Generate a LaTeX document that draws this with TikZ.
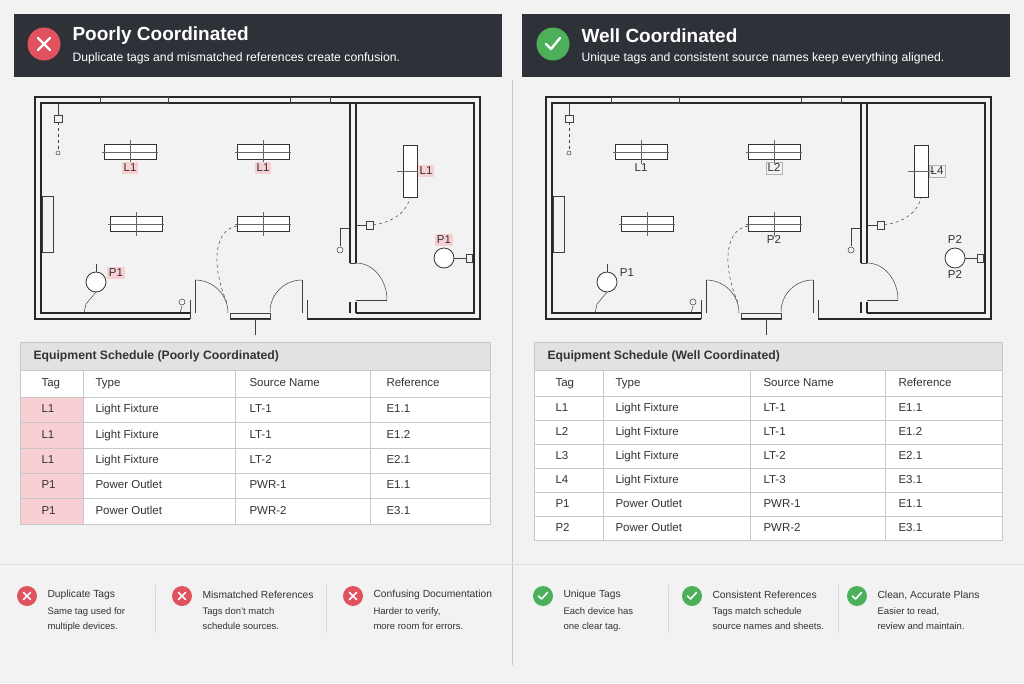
\documentclass[tikz,border=0pt]{standalone}
\usepackage{fontspec}
\setmainfont{Liberation Sans}
\usetikzlibrary{positioning}
\definecolor{bg}{HTML}{F2F2F2}
\definecolor{hdr}{HTML}{2E3238}
\definecolor{bad}{HTML}{E0525E}
\definecolor{good}{HTML}{4CAF5A}
\definecolor{badcell}{HTML}{F8D0D3}
\definecolor{grid}{HTML}{C8C8C8}
\definecolor{ttl}{HTML}{E2E2E2}
\definecolor{txt}{HTML}{333333}

\tikzset{
  wall/.style={line width=1.2pt, draw=black!85},
  thin/.style={line width=0.5pt, draw=black!75},
  fixture/.style={draw=black!80, line width=0.8pt, fill=white},
  tag/.style={font=\fontsize{11.5}{13}\selectfont, inner sep=1.5pt, text=txt, text height=8.5pt, text depth=1pt},
  badtag/.style={tag, fill=badcell},
  boxtag/.style={tag, draw=black!30},
  cell/.style={font=\fontsize{11.5}{13}\selectfont, anchor=west, text=txt, text height=8.5pt, text depth=2.5pt},
  head/.style={cell},
  ttitle/.style={font=\bfseries\fontsize{12.2}{14}\selectfont, anchor=west, text=txt},
  ptitle/.style={font=\bfseries\fontsize{19}{22}\selectfont, anchor=west, text=white},
  psub/.style={font=\fontsize{12.2}{14}\selectfont, anchor=west, text=white},
  ntitle/.style={font=\fontsize{10.3}{12}\selectfont, anchor=west, text=txt},
  nbody/.style={font=\fontsize{9.5}{15}\selectfont, anchor=north west, align=left, text=txt},
}

% floor plan, drawn at the current shift
\newcommand\floorplan{%
  % outer walls
  \draw[wall] (190,319) -- (35,319) -- (35,97) -- (480,97) -- (480,319) -- (307,319);
  \draw[wall] (230,319) -- (270,319);
  \draw[wall] (190,313) -- (41,313) -- (41,103) -- (474,103) -- (474,313) -- (356,313);
  \draw[thin] (230,313) rectangle (270,319);
  \draw[thin] (190,300) -- (190,319);  \draw[thin] (307,300) -- (307,319);
  \draw[thin] (195,280) -- (195,313);  \draw[thin] (302,280) -- (302,313);
  % window gaps in top wall
  \draw[thin] (100,97) rectangle (168,103);
  \draw[thin] (290,97) rectangle (330,103);
  % partition
  \draw[wall] (350,103) -- (350,263);  \draw[wall] (356,103) -- (356,263);
  \draw[wall] (350,302) -- (350,313);  \draw[wall] (356,302) -- (356,313);
  \draw[thin] (350,263) -- (356,263);
  \draw[thin] (356,300) -- (387,300);
  % doors
  \draw[thin] (195,280) arc[start angle=-90, end angle=0, radius=33];
  \draw[thin] (302,280) arc[start angle=-90, end angle=-180, radius=32];
  \draw[thin] (356,263) arc[start angle=-90, end angle=0, x radius=31, y radius=37];
  \draw[thin] (255,319) -- (255,335);
  % left window
  \draw[thin] (42,196) rectangle (53,252);
  % fixtures
  \foreach \x/\y in {130/152, 263/152, 136/224, 263/224} {
    \draw[fixture] (\x-26,\y-7.5) rectangle (\x+26,\y+7.5);
    \draw[line width=0.3pt, black!60] (\x,\y-12) -- (\x,\y+12) (\x-28,\y) -- (\x+28,\y);
  }
  \draw[fixture] (403,145) rectangle (417,197);
  \draw[line width=0.3pt, black!60] (397,171) -- (423,171);
  % devices
  \draw[fixture] (96,282) circle[radius=10];
  \draw[fixture] (444,258) circle[radius=10];
  \draw[thin] (96,292) -- (86,304) -- (84,313);
  \draw[thin] (454,258) -- (466,258);  \draw[thin] (466,254) rectangle (472,262);
  \draw[thin] (96,272) -- (96,264);
  % switches and runs
  \draw[thin] (58,103) -- (58,115);  \draw[thin] (54,115) rectangle (62,122);
  \draw[thin, dashed] (58,122) -- (58,150);  \draw[thin] (58,153) circle[radius=2];
  \draw[thin] (182,306) -- (180,313);  \draw[thin] (182,302) circle[radius=3];
  \draw[thin, dashed] (237,226) .. controls (212,230) and (212,270) .. (228,305);
  \draw[thin] (350,228) -- (340,228) -- (340,246);  \draw[thin] (340,250) circle[radius=3];
  \draw[thin] (356,225) -- (366,225);  \draw[thin] (366,221) rectangle (373,229);
  \draw[thin, dashed] (373,225) .. controls (395,222) and (408,210) .. (410,197);
}

\begin{document}
\begin{tikzpicture}[x=1pt, y=-1pt]
\useasboundingbox (0,0) rectangle (1024,683);
\fill[bg] (0,0) rectangle (1024,683);
\draw[grid] (512,80) -- (512,665);
\draw[black!12] (0,564) -- (1024,564);

% headers
\fill[hdr] (14,14) rectangle (502,77);
\fill[hdr] (522,14) rectangle (1010,77);
\node[circle, fill=bad, minimum size=33pt, inner sep=0pt] (xbad) at (44,44) {};
\draw[white, line width=2.4pt, line cap=round] ([shift={(-6,-6)}]xbad.center) -- ([shift={(6,6)}]xbad.center) ([shift={(-6,6)}]xbad.center) -- ([shift={(6,-6)}]xbad.center);
\node[circle, fill=good, minimum size=33pt, inner sep=0pt] (xgood) at (553,44) {};
\draw[white, line width=2.4pt, line cap=round, line join=round] ([shift={(-7,0)}]xgood.center) -- ([shift={(-2,5)}]xgood.center) -- ([shift={(7,-6)}]xgood.center);
\node[ptitle] (tbad) at (69,36) {Poorly Coordinated};
\node[psub] (sbad) at (69,58) {Duplicate tags and mismatched references create confusion.};
\node[ptitle] (tgood) at (578,36) {Well Coordinated};
\node[psub] (sgood) at (578,58) {Unique tags and consistent source names keep everything aligned.};

% plans
\floorplan
\begin{scope}[shift={(511,0)}]\floorplan\end{scope}

\node[badtag] (lb1) at (130,168) {L1};
\node[badtag] (lb2) at (263,168) {L1};
\node[badtag] (lb3) at (426,171) {L1};
\node[badtag] (pb1) at (116,273) {P1};
\node[badtag] (pb2) at (444,240) {P1};
\node[tag] (lg1) at (641,168) {L1};
\node[boxtag] (lg2) at (774,168) {L2};
\node[boxtag] (lg4) at (937,171) {L4};
\node[tag] (pg1) at (627,273) {P1};
\node[tag] (pg2) at (774,240) {P2};
\node[tag] (pg3) at (955,240) {P2};
\node[tag] (pg4) at (955,275) {P2};

% left schedule
\fill[ttl] (20,342) rectangle (490,370);
\node[ttitle] (schbad) at (30,356) {Equipment Schedule (Poorly Coordinated)};
\fill[white] (20,370) rectangle (490,524);
\foreach \i in {0,...,4} \fill[badcell] (20,397+\i*25.4) rectangle (83,397+\i*25.4+25.4);
\foreach \y in {370,397,422.4,447.8,473.2,498.6} \draw[grid] (20,\y) -- (490,\y);
\foreach \x in {83,235,370} \draw[grid] (\x,370) -- (\x,524);
\draw[grid] (20,342) rectangle (490,524);
\node[head] at (38,383.5) {Tag};
\node[head] at (92,383.5) {Type};
\node[head] at (246,383.5) {Source Name};
\node[head] at (383,383.5) {Reference};
\foreach \t/\ty/\s/\r [count=\i from 0] in {L1/Light Fixture/LT-1/E1.1, L1/Light Fixture/LT-1/E1.2, L1/Light Fixture/LT-2/E2.1, P1/Power Outlet/PWR-1/E1.1, P1/Power Outlet/PWR-2/E3.1} {
  \node[cell] (bt\i) at (38,409.7+\i*25.4) {\t};
  \node[cell] (by\i) at (92,409.7+\i*25.4) {\ty};
  \node[cell] (bs\i) at (246,409.7+\i*25.4) {\s};
  \node[cell] (br\i) at (383,409.7+\i*25.4) {\r};
}

% right schedule
\fill[ttl] (534,342) rectangle (1002,370);
\node[ttitle] (schgood) at (544,356) {Equipment Schedule (Well Coordinated)};
\fill[white] (534,370) rectangle (1002,540);
\foreach \y in {370,396,420,444,468,492,516} \draw[grid] (534,\y) -- (1002,\y);
\foreach \x in {603,750,885} \draw[grid] (\x,370) -- (\x,540);
\draw[grid] (534,342) rectangle (1002,540);
\node[head] at (552,383) {Tag};
\node[head] at (612,383) {Type};
\node[head] at (760,383) {Source Name};
\node[head] at (895,383) {Reference};
\foreach \t/\ty/\s/\r [count=\i from 0] in {L1/Light Fixture/LT-1/E1.1, L2/Light Fixture/LT-1/E1.2, L3/Light Fixture/LT-2/E2.1, L4/Light Fixture/LT-3/E3.1, P1/Power Outlet/PWR-1/E1.1, P2/Power Outlet/PWR-2/E3.1} {
  \node[cell] (gt\i) at (552,408+\i*24) {\t};
  \node[cell] (gy\i) at (612,408+\i*24) {\ty};
  \node[cell] (gs\i) at (760,408+\i*24) {\s};
  \node[cell] (gr\i) at (895,408+\i*24) {\r};
}

% notes
\foreach \x in {155,326,668,838} \draw[black!15] (\x,585) -- (\x,633);
\foreach \x/\n/\a/\b/\c in {27/nb1/Duplicate Tags/Same tag used for/multiple devices., 182/nb2/Mismatched References/Tags don't match/schedule sources., 353/nb3/Confusing Documentation/{Harder to verify,}/more room for errors.} {
  \node[circle, fill=bad, minimum size=20pt, inner sep=0pt] (\n) at (\x,596) {};
  \draw[white, line width=1.6pt, line cap=round] ([shift={(-3.5,-3.5)}]\n.center) -- ([shift={(3.5,3.5)}]\n.center) ([shift={(-3.5,3.5)}]\n.center) -- ([shift={(3.5,-3.5)}]\n.center);
  \node[ntitle] (\n t) at (\x+17,595) {\a};
  \node[nbody] at (\x+17,604) {\b\\\c};
}
\foreach \x/\n/\a/\b/\c in {543/ng1/Unique Tags/Each device has/one clear tag., 692/ng2/Consistent References/Tags match schedule/source names and sheets., 857/ng3/{Clean, Accurate Plans}/{Easier to read,}/review and maintain.} {
  \node[circle, fill=good, minimum size=20pt, inner sep=0pt] (\n) at (\x,596) {};
  \draw[white, line width=1.6pt, line cap=round, line join=round] ([shift={(-4.5,0)}]\n.center) -- ([shift={(-1.5,3)}]\n.center) ([shift={(-1.5,3)}]\n.center) -- ([shift={(4.5,-3.5)}]\n.center);
  \node[ntitle] (\n t) at (\x+17,595) {\a};
  \node[nbody] at (\x+17,604) {\b\\\c};
}
\end{tikzpicture}
\end{document}
